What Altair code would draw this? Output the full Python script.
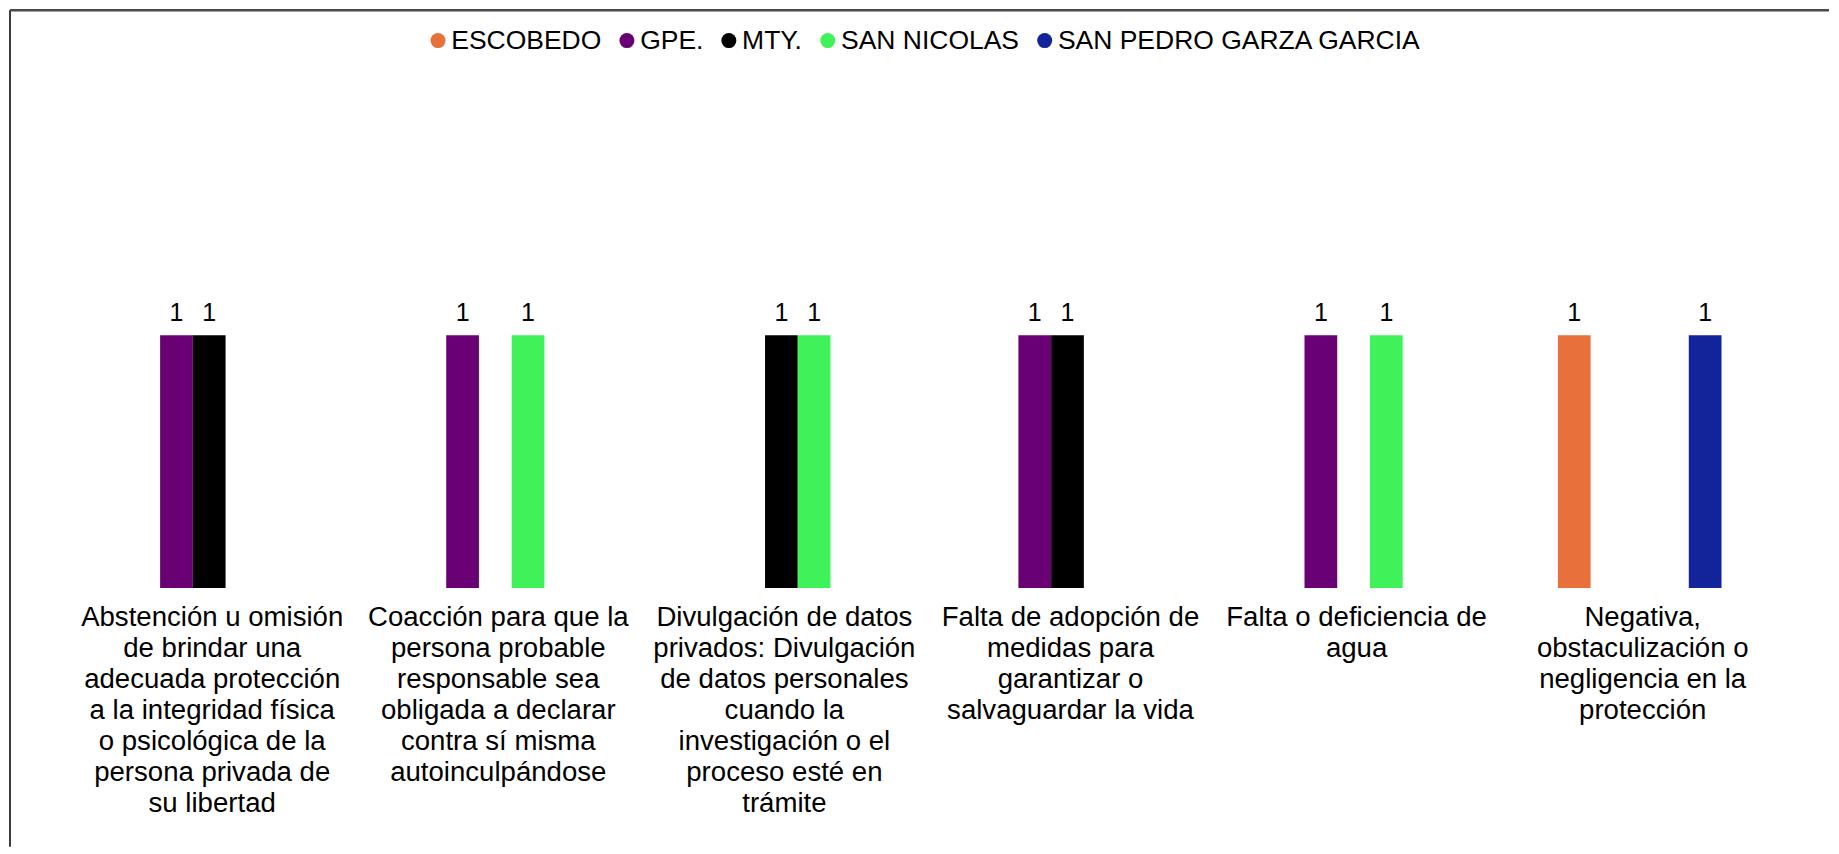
import altair as alt
import pandas as pd

# ---- data ----
category_lines = [
    ["Abstención u omisión", "de brindar una", "adecuada protección", "a la integridad física",
     "o psicológica de la", "persona privada de", "su libertad"],
    ["Coacción para que la", "persona probable", "responsable sea", "obligada a declarar",
     "contra sí misma", "autoinculpándose"],
    ["Divulgación de datos", "privados: Divulgación", "de datos personales", "cuando la",
     "investigación o el", "proceso esté en", "trámite"],
    ["Falta de adopción de", "medidas para", "garantizar o", "salvaguardar la vida"],
    ["Falta o deficiencia de", "agua"],
    ["Negativa,", "obstaculización o", "negligencia en la", "protección"],
]
categories = ["\n".join(lines) for lines in category_lines]

series = ["ESCOBEDO", "GPE.", "MTY.", "SAN NICOLAS", "SAN PEDRO GARZA GARCIA"]
colors = ["#E8703A", "#690073", "#000000", "#3FF25A", "#13249B"]

escobedo = [0, 0, 0, 0, 0, 1]
gpe = [1, 1, 0, 1, 1, 0]
mty = [1, 0, 1, 1, 0, 0]
san_nicolas = [0, 1, 1, 0, 1, 0]
san_pedro = [0, 0, 0, 0, 0, 1]
series_values = [escobedo, gpe, mty, san_nicolas, san_pedro]

rows = []
for s, vals in zip(series, series_values):
    for c, v in zip(categories, vals):
        if v:
            rows.append({"categoria": c, "municipio": s, "valor": v})
df = pd.DataFrame(rows)

W = 1820
H = 578
FONT = "Liberation Sans"

x = alt.X(
    "categoria:N",
    sort=categories,
    scale=alt.Scale(paddingInner=0.428, paddingOuter=0.393, align=0.522),
    axis=alt.Axis(
        title=None, labelAngle=0, domain=False, ticks=False, grid=False,
        labelExpr="split(datum.label, '\\n')",
        labelFontSize=27.6, labelLineHeight=31, labelPadding=16, labelLimit=400,
        labelOffset=3,
        labelColor="black", labelFont=FONT, labelAlign="center",
    ),
)
xoff = alt.XOffset("municipio:N", sort=series, scale=alt.Scale(domain=series, paddingInner=0, paddingOuter=0))
y = alt.Y("valor:Q", axis=None, scale=alt.Scale(domain=[0, 2.287], nice=False, zero=True))

color = alt.Color(
    "municipio:N",
    sort=series,
    scale=alt.Scale(domain=series, range=colors),
    legend=alt.Legend(
        title=None, orient="none", legendX=415, legendY=17, direction="horizontal",
        columns=5, columnPadding=12, labelOffset=0, symbolType="circle", symbolSize=225,
        symbolStrokeWidth=0, labelFontSize=26.5, labelFont=FONT, labelColor="black",
        labelLimit=600, padding=0,
    ),
)

base = alt.Chart(df)
bars = base.mark_bar().encode(x=x, xOffset=xoff, y=y, color=color)
labels = base.mark_text(baseline="alphabetic", dy=-14, fontSize=25, font=FONT, color="black").encode(
    x=x, xOffset=xoff, y=y, text=alt.Text("valor:Q")
)

frame_df = pd.DataFrame({"k": [0]})
top_line = alt.Chart(frame_df).mark_rule(color="#4a4a4a", strokeWidth=2.5).encode(
    x=alt.value(0), x2=alt.value(W), y=alt.value(0)
)
left_line = alt.Chart(frame_df).mark_rule(color="#3c3c3c", strokeWidth=2).encode(
    x=alt.value(0), y=alt.value(0), y2=alt.value(837)
)

chart = alt.layer(bars, labels, top_line, left_line).properties(
    width=W, height=H, padding=0
).configure(font=FONT).configure_view(stroke=None)

chart.save("out.html", embed_options={"renderer": "svg", "actions": False})
